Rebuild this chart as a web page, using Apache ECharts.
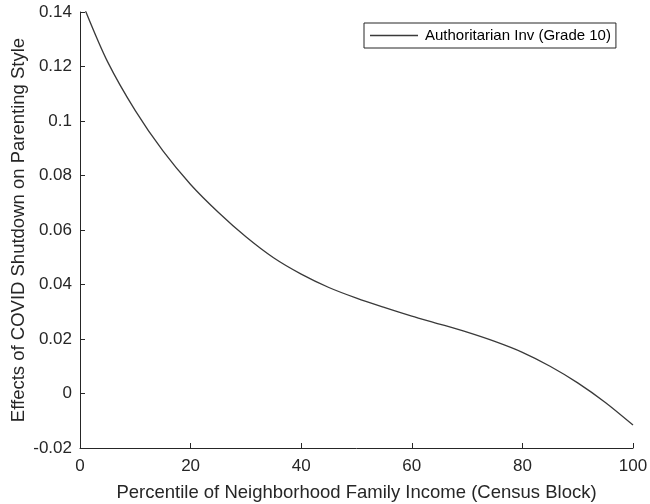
<!DOCTYPE html>
<html>
<head>
<meta charset="utf-8">
<script src="https://cdn.jsdelivr.net/npm/echarts@6/dist/echarts.min.js"></script>
<style>
  html, body { margin: 0; padding: 0; background: #fff; }
  #chart { width: 650px; height: 504px; }
</style>
</head>
<body>
<div id="chart"></div>
<script>
// Percentile of neighborhood family income
const percentiles = [1, 5, 10, 15, 20, 25, 30, 35, 40, 45, 50, 55, 60, 65, 70, 75, 80, 85, 90, 95, 100];
// Estimated effect of the COVID shutdown on authoritarian involvement (grade 10)
const effects = [0.1404, 0.1217, 0.1038, 0.0890, 0.0767, 0.0665, 0.0575, 0.0498, 0.0438, 0.0389, 0.0350,
                 0.0316, 0.0284, 0.0255, 0.0225, 0.0191, 0.0151, 0.0100, 0.0039, -0.0033, -0.0116];
const seriesName = 'Authoritarian Inv (Grade 10)';
const xTicks = [0, 20, 40, 60, 80, 100];
const yTicks = [-0.02, 0, 0.02, 0.04, 0.06, 0.08, 0.1, 0.12, 0.14];

const FONT = 'Liberation Sans, Arial, Helvetica, sans-serif';
const INK = '#262626';

const chart = echarts.init(document.getElementById('chart'));
chart.setOption({
  animation: false,
  backgroundColor: '#fff',
  grid: { left: 80, right: 17, top: 12, bottom: 56, containLabel: false, outerBoundsMode: 'none' },
  legend: {
    data: [{ name: seriesName, icon: 'rect' }],
    left: 364,
    top: 23,
    orient: 'vertical',
    backgroundColor: '#fff',
    borderColor: INK,
    borderWidth: 1,
    borderRadius: 0,
    padding: [5, 5, 5, 6],
    itemWidth: 48,
    itemHeight: 1.3,
    itemGap: 0,
    textStyle: { fontFamily: FONT, fontSize: 15, color: '#000', padding: [0, 0, 0, 2] }
  },
  xAxis: {
    type: 'value',
    min: xTicks[0],
    max: xTicks[xTicks.length - 1],
    interval: 20,
    name: 'Percentile of Neighborhood Family Income (Census Block)',
    nameLocation: 'middle',
    nameGap: 35,
    nameMoveOverlap: false,
    nameTextStyle: { fontFamily: FONT, fontSize: 18.5, color: INK },
    axisLine: { onZero: false, lineStyle: { color: INK, width: 1 } },
    axisTick: { inside: true, length: 5, lineStyle: { color: INK } },
    axisLabel: { fontFamily: FONT, fontSize: 17, color: INK, margin: 10 },
    splitLine: { show: false }
  },
  yAxis: {
    type: 'value',
    min: yTicks[0],
    max: yTicks[yTicks.length - 1],
    interval: 0.02,
    name: 'Effects of COVID Shutdown on Parenting Style',
    nameLocation: 'middle',
    nameGap: 52,
    nameMoveOverlap: false,
    nameTextStyle: { fontFamily: FONT, fontSize: 18.5, color: INK },
    axisLine: { show: true, lineStyle: { color: INK, width: 1 } },
    axisTick: { show: true, inside: true, length: 5, lineStyle: { color: INK } },
    axisLabel: {
      fontFamily: FONT, fontSize: 17, color: INK, margin: 8,
      formatter: v => String(parseFloat(v.toFixed(2)))
    },
    splitLine: { show: false }
  },
  series: [{
    name: seriesName,
    type: 'line',
    data: percentiles.map((p, i) => [p, effects[i]]),
    smooth: 0.3,
    symbol: 'none',
    lineStyle: { color: '#3a3a3a', width: 1.3 },
    itemStyle: { color: '#3a3a3a' }
  }]
});
</script>
</body>
</html>
